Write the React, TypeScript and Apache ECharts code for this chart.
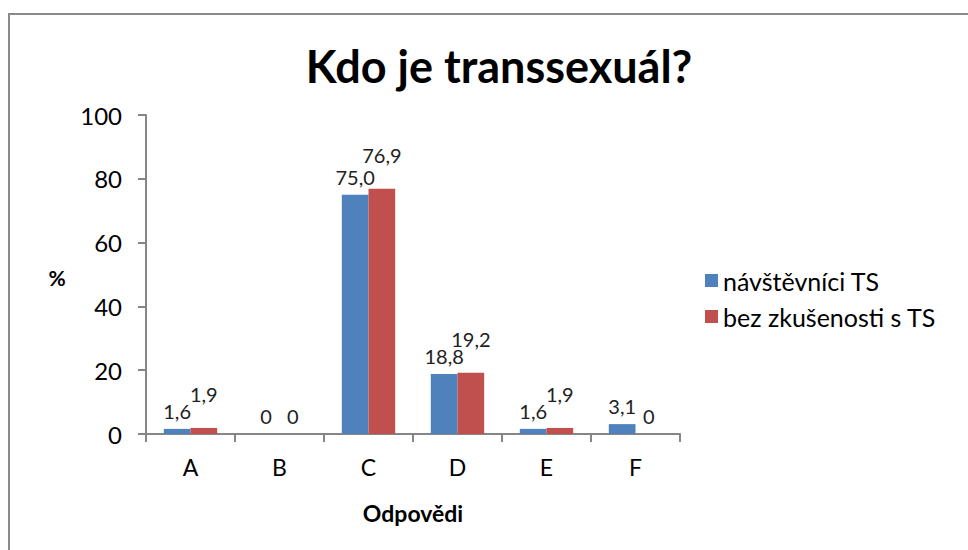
import React, { useEffect, useRef } from "react";
import * as echarts from "echarts";

const categories = ["A", "B", "C", "D", "E", "F"];
const seriesNames = ["návštěvníci TS", "bez zkušenosti s TS"];
const visitors = [1.6, 0, 75.0, 18.8, 1.6, 3.1];
const noExperience = [1.9, 0, 76.9, 19.2, 1.9, 0];
const yTicks = { min: 0, max: 100, interval: 20 };
const titleText = "Kdo je transsexuál?";
const xAxisName = "Odpovědi";
const yAxisName = "%";

const FONT = "Lato, 'Open Sans', sans-serif";
const fmt = (v: number) => (v === 0 ? "0" : v.toFixed(1).replace(".", ","));

export default function App() {
  const ref = useRef<HTMLDivElement>(null);
  useEffect(() => {
    if (!ref.current) return;
    const chart = echarts.init(ref.current, null, { renderer: "svg" });
    const axisColor = "#868686";
    const mkSeries = (name: string, data: number[], color: string, lift: boolean) => ({
      name,
      type: "bar",
      data,
      barGap: "0%",
      barCategoryGap: "40%",
      itemStyle: { color },
      label: {
        show: true,
        position: "top",
        distance: 8,
        color: "#222",
        fontFamily: FONT,
        fontSize: 20,
        formatter: (p: any) => fmt(p.value),
      },
      labelLayout: lift
        ? (p: any) => ({ dy: data[p.dataIndex] > 0 ? -16 : 0 })
        : undefined,
    });
    chart.setOption({
      animation: false,
      backgroundColor: "#fff",
      title: {
        text: titleText,
        left: 494,
        top: 38,
        textAlign: "center",
        textStyle: { fontFamily: FONT, fontSize: 45, fontWeight: "bold", color: "#000" },
      },
      graphic: [
        {
          type: "rect",
          shape: { x: 9, y: 14, width: 1000, height: 600 },
          style: { fill: "none", stroke: "#8a8a8a", lineWidth: 2 },
        },
        {
          type: "text",
          x: 57,
          y: 277,
          style: {
            text: yAxisName,
            fontFamily: FONT,
            fontSize: 21,
            fontWeight: "bold",
            fill: "#000",
            align: "center",
            verticalAlign: "middle",
          },
        },
      ],
      legend: {
        orient: "vertical",
        left: 700,
        top: 263,
        itemWidth: 13,
        itemHeight: 13,
        itemGap: 11,
        icon: "rect",
        textStyle: { fontFamily: FONT, fontSize: 25, color: "#000" },
        data: seriesNames,
      },
      grid: { left: 146, right: 288, top: 115, bottom: 116, containLabel: false },
      xAxis: {
        type: "category",
        data: categories,
        name: xAxisName,
        nameLocation: "middle",
        nameGap: 67,
        nameTextStyle: { fontFamily: FONT, fontSize: 23, fontWeight: "bold", color: "#000" },
        axisLine: { lineStyle: { color: axisColor, width: 2 } },
        axisTick: { show: true, length: 8, lineStyle: { color: axisColor, width: 2 } },
        axisLabel: { fontFamily: FONT, fontSize: 23, color: "#000", margin: 21 },
      },
      yAxis: {
        type: "value",
        min: yTicks.min,
        max: yTicks.max,
        interval: yTicks.interval,
        axisLine: { show: true, lineStyle: { color: axisColor, width: 2 } },
        axisTick: { show: true, length: 8, lineStyle: { color: axisColor, width: 2 } },
        axisLabel: { fontFamily: FONT, fontSize: 24, color: "#000", margin: 24 },
        splitLine: { show: false },
      },
      series: [
        mkSeries(seriesNames[0], visitors, "#4F81BD", false),
        mkSeries(seriesNames[1], noExperience, "#C0504D", true),
      ],
    });
    return () => chart.dispose();
  }, []);
  return <div ref={ref} style={{ width: 968, height: 550, position: "absolute", left: 0, top: 0 }} />;
}
